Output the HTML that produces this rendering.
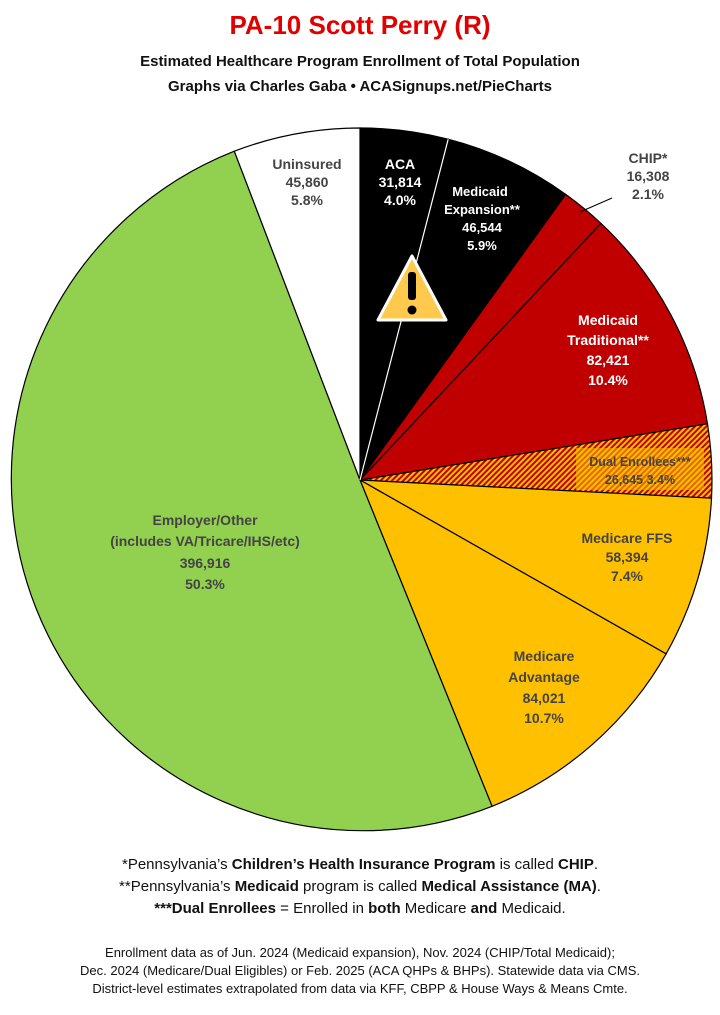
<!DOCTYPE html>
<html><head><meta charset="utf-8"><style>
body{margin:0;background:#fff;}
svg text{font-family:"Liberation Sans",sans-serif;font-weight:bold;}
</style></head><body>
<svg width="720" height="1010" viewBox="0 0 720 1010" xmlns="http://www.w3.org/2000/svg">
<defs>
<pattern id="h" width="4" height="4" patternUnits="userSpaceOnUse" patternTransform="rotate(45)">
<rect width="4" height="4" fill="#ffc000"/><rect width="2" height="4" fill="#c00000"/>
</pattern>
</defs>
<text x="360" y="34" text-anchor="middle" font-size="26" fill="#e00000">PA-10 Scott Perry (R)</text>
<text x="360" y="66" text-anchor="middle" font-size="15" fill="#111">Estimated Healthcare Program Enrollment of Total Population</text>
<text x="360" y="91" text-anchor="middle" font-size="15" fill="#111">Graphs via Charles Gaba  •  ACASignups.net/PieCharts</text>
<g stroke="#000" stroke-width="1.2">
<path d="M360,480 L360,128 A352,352 0 0 1 448.2,139.2 Z" fill="#000"/>
<path d="M360,480 L448.2,139.2 A352,352 0 0 1 565.7,194.4 Z" fill="#000"/>
<path d="M360,480 L565.7,194.4 A352,352 0 0 1 601,223.4 Z" fill="#c00000"/>
<path d="M360,480 L601,223.4 A352,352 0 0 1 707.5,423.8 Z" fill="#c00000"/>
<path d="M360,480 L707.5,423.8 A352,352 0 0 1 711.5,498.2 Z" fill="url(#h)"/>
<path d="M360,480 L711.5,498.2 A352,352 0 0 1 666.1,653.9 Z" fill="#ffc000"/>
<path d="M360,480 L666.1,653.9 A352,352 0 0 1 492.1,806.3 Z" fill="#ffc000"/>
<path d="M360,480 L492.1,806.3 A352,352 0 0 1 234.3,151.2 Z" fill="#92d050"/>
<path d="M360,480 L234.3,151.2 A352,352 0 0 1 360,128 Z" fill="#fff"/>
</g>
<rect x="576" y="448" width="128" height="42" fill="#ffc000" opacity="0.55"/>
<line x1="360" y1="480" x2="448.2" y2="139.2" stroke="#fff" stroke-width="1.2"/>
<line x1="580" y1="212" x2="612" y2="198" stroke="#000" stroke-width="1"/>
<polygon points="412,256 446,320 378,320" fill="#ffc94d" stroke="#fff" stroke-width="3" stroke-linejoin="round"/>
<rect x="408" y="272" width="8" height="28" rx="3" fill="#000"/>
<circle cx="412" cy="310" r="4.5" fill="#000"/>
<g font-size="14" text-anchor="middle">
<text x="307" y="169" fill="#444">Uninsured</text><text x="307" y="187" fill="#444">45,860</text><text x="307" y="205" fill="#444">5.8%</text>
<text x="400" y="169" fill="#fff">ACA</text><text x="400" y="187" fill="#fff">31,814</text><text x="400" y="205" fill="#fff">4.0%</text>
<text x="480" y="196" fill="#fff" font-size="13">Medicaid</text><text x="482" y="214" fill="#fff" font-size="13">Expansion**</text><text x="482" y="232" fill="#fff" font-size="13">46,544</text><text x="482" y="250" fill="#fff" font-size="13">5.9%</text>
<text x="648" y="163" fill="#444">CHIP*</text><text x="648" y="181" fill="#444">16,308</text><text x="648" y="199" fill="#444">2.1%</text>
<text x="608" y="325" fill="#fff">Medicaid</text><text x="608" y="345" fill="#fff">Traditional**</text><text x="608" y="365" fill="#fff">82,421</text><text x="608" y="385" fill="#fff">10.4%</text>
<text x="640" y="466" fill="#444" font-size="12.5">Dual Enrollees***</text><text x="640" y="484" fill="#444" font-size="12.5">26,645 3.4%</text>
<text x="627" y="543" fill="#444">Medicare FFS</text><text x="627" y="562" fill="#444">58,394</text><text x="627" y="581" fill="#444">7.4%</text>
<text x="544" y="661" fill="#444">Medicare</text><text x="544" y="682" fill="#444">Advantage</text><text x="544" y="703" fill="#444">84,021</text><text x="544" y="723" fill="#444">10.7%</text>
<text x="205" y="525" fill="#444">Employer/Other</text><text x="205" y="546" fill="#444">(includes VA/Tricare/IHS/etc)</text><text x="205" y="568" fill="#444">396,916</text><text x="205" y="589" fill="#444">50.3%</text>
</g>
<g font-size="15" text-anchor="middle" fill="#111">
<text x="360" y="869" style="font-weight:normal">*Pennsylvania’s <tspan font-weight="bold">Children’s Health Insurance Program</tspan> is called <tspan font-weight="bold">CHIP</tspan>.</text>
<text x="360" y="891" style="font-weight:normal">**Pennsylvania’s <tspan font-weight="bold">Medicaid</tspan> program is called <tspan font-weight="bold">Medical Assistance (MA)</tspan>.</text>
<text x="360" y="913" style="font-weight:normal"><tspan font-weight="bold">***Dual Enrollees</tspan> = Enrolled in <tspan font-weight="bold">both</tspan> Medicare <tspan font-weight="bold">and</tspan> Medicaid.</text>
</g>
<g font-size="13" text-anchor="middle" fill="#111">
<text x="360" y="957" style="font-weight:normal">Enrollment data as of Jun. 2024 (Medicaid expansion), Nov. 2024 (CHIP/Total Medicaid);</text>
<text x="360" y="975" style="font-weight:normal">Dec. 2024 (Medicare/Dual Eligibles) or Feb. 2025 (ACA QHPs &amp; BHPs). Statewide data via CMS.</text>
<text x="360" y="993" style="font-weight:normal">District-level estimates extrapolated from data via KFF, CBPP &amp; House Ways &amp; Means Cmte.</text>
</g>
</svg>
</body></html>
